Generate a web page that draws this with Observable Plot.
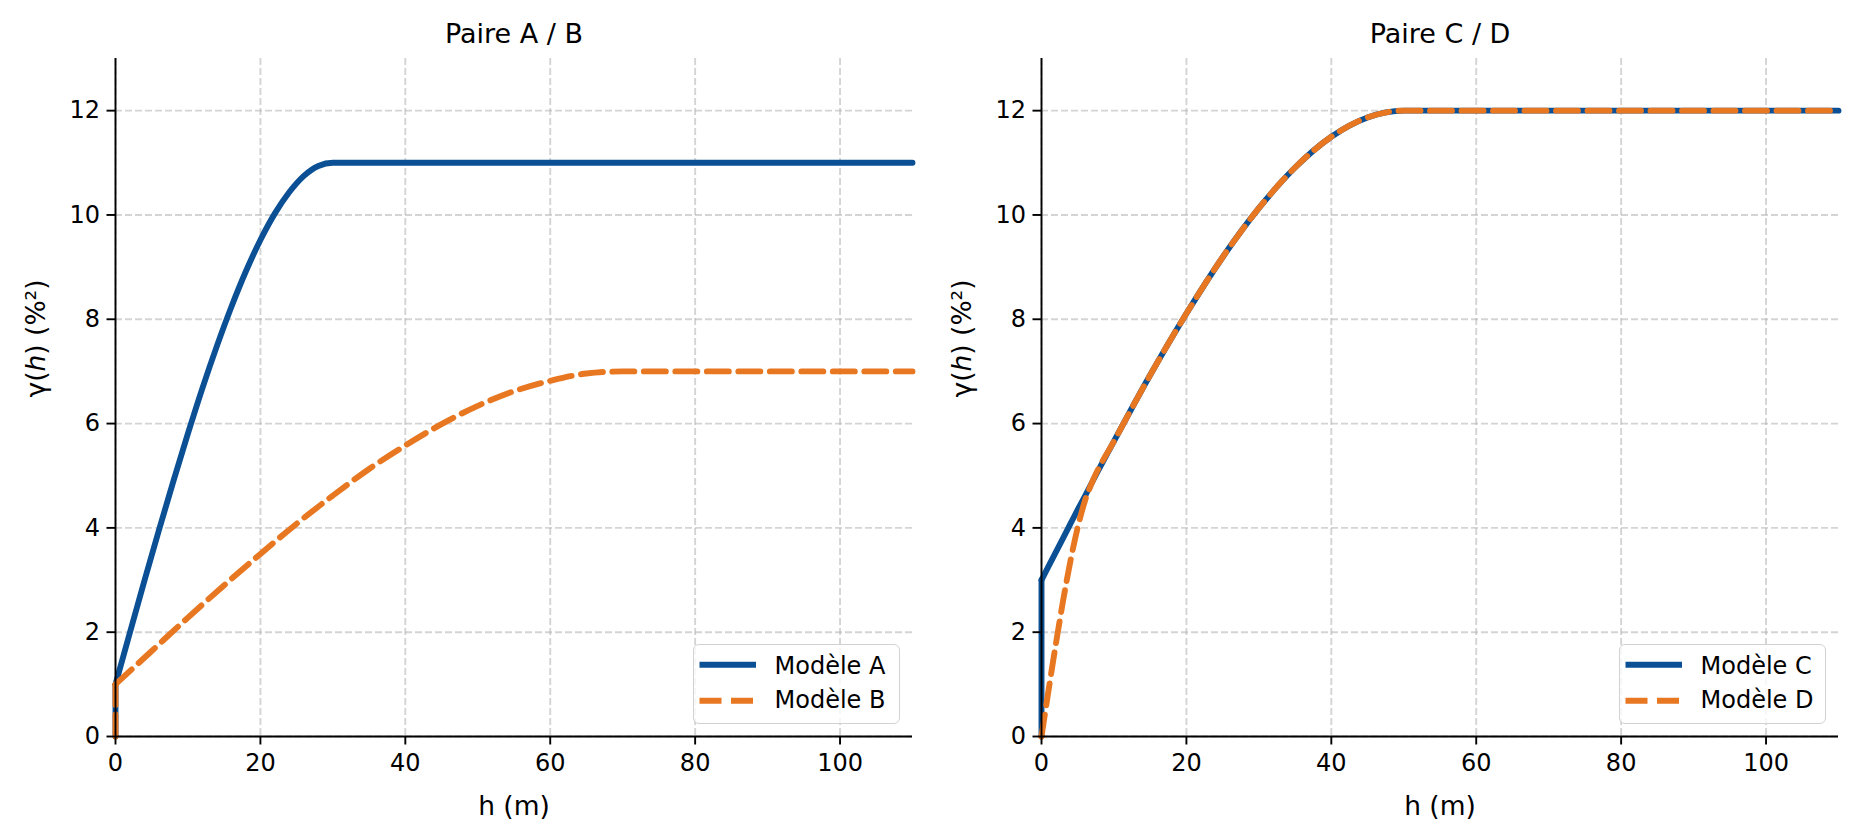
<!DOCTYPE html>
<html>
<head>
<meta charset="utf-8">
<script src="https://cdn.jsdelivr.net/npm/d3@7"></script>
<script src="https://cdn.jsdelivr.net/npm/@observablehq/plot@0.6"></script>
<style>
html, body { margin: 0; padding: 0; background: #fff; }
#wrap { position: relative; width: 1857px; height: 839px; display: flex; font-family: "DejaVu Sans", sans-serif; }
.panel { position: relative; }
.legend { position: absolute; box-sizing: border-box; border: 1.6px solid #d2d2d2; border-radius: 6px; background: rgba(255,255,255,0.8); }
.legend svg { position: absolute; left: 0; top: 0; overflow: visible; }
</style>
</head>
<body>
<div id="wrap"></div>
<script>
// ---- data ----
const xTicks = [0, 20, 40, 60, 80, 100];
const yTicks = [0, 2, 4, 6, 8, 10, 12];

const titles = ["Paire A / B", "Paire C / D"];
const seriesNames = [["Modèle A", "Modèle B"], ["Modèle C", "Modèle D"]];

// first two points: the value at h = 0 and the nugget jump
const hA = [0, 0, 2, 4, 6, 8, 10, 12, 14, 16, 18, 20, 22, 24, 26, 28, 30, 40, 60, 80, 100, 110];
const gA = [0, 1.0, 2.0, 2.99, 3.96, 4.9, 5.81, 6.68, 7.49, 8.24, 8.92, 9.52, 10.03, 10.44, 10.75, 10.94, 11, 11, 11, 11, 11, 11];

const hB = [0, 0, 5, 10, 15, 20, 25, 30, 35, 40, 45, 50, 55, 60, 65, 70, 80, 100, 110];
const gB = [0, 1.0, 1.64, 2.28, 2.90, 3.50, 4.08, 4.62, 5.13, 5.58, 5.99, 6.34, 6.62, 6.82, 6.96, 7.0, 7.0, 7.0, 7.0];

const hC = [0, 0, 1, 2, 3, 4, 5, 6, 7, 10, 15, 20, 25, 30, 35, 40, 45, 50, 60, 80, 100, 110];
const gC = [0, 3.0, 3.27, 3.54, 3.81, 4.08, 4.35, 4.61, 4.88, 5.66, 6.93, 8.11, 9.19, 10.13, 10.91, 11.50, 11.87, 12, 12, 12, 12, 12];

const hD = [0, 0, 1, 2, 3, 4, 5, 6, 7, 10, 15, 20, 25, 30, 35, 40, 45, 50, 60, 80, 100, 110];
const gD = [0, 0, 0.91, 1.79, 2.62, 3.37, 4.01, 4.52, 4.88, 5.66, 6.93, 8.11, 9.19, 10.13, 10.91, 11.50, 11.87, 12, 12, 12, 12, 12];

const BLUE = "#0b4f94";
const ORANGE = "#e87722";

const toRows = (h, g) => h.map((d, i) => ({h: d, g: g[i]}));

function seriesMarks(rows, opts) {
  // vertical nugget segment drawn straight, rest drawn as a smooth curve
  return [
    Plot.line(rows.slice(0, 2), {x: "h", y: "g", ...opts, curve: "linear"}),
    Plot.line(rows.slice(1), {x: "h", y: "g", ...opts, curve: "monotone-x"})
  ];
}

function panel(title, names, s1, s2, width, ml, mr, legendLeft) {
  const gridStyle = {stroke: "#b0b0b0", strokeOpacity: 0.55, strokeWidth: 1.9, strokeDasharray: "7,3"};
  const svg = Plot.plot({
    width, height: 839,
    marginLeft: ml, marginRight: mr, marginTop: 58, marginBottom: 103,
    style: {fontFamily: "DejaVu Sans, sans-serif", fontSize: "24px", color: "black", background: "white", overflow: "visible"},
    x: {domain: [0, 110]},
    y: {domain: [0, 13]},
    marks: [
      Plot.gridX(xTicks, gridStyle),
      Plot.gridY(yTicks, gridStyle),
      ...seriesMarks(s1, {stroke: BLUE, strokeWidth: 5.9}),
      ...seriesMarks(s2, {stroke: ORANGE, strokeWidth: 5.9, strokeDasharray: "22,9.5"}),
      Plot.axisX(xTicks, {tickSize: 8.5, tickPadding: 9, strokeWidth: 1.9, fontSize: 24, label: null, tickFormat: d => String(d)}),
      Plot.axisY(yTicks, {tickSize: 8.5, tickPadding: 7, strokeWidth: 1.9, fontSize: 24, label: null, tickFormat: d => String(d)}),
      Plot.ruleX([0], {stroke: "black", strokeWidth: 1.9}),
      Plot.ruleY([0], {stroke: "black", strokeWidth: 1.9}),
      Plot.text([title], {frameAnchor: "top", dy: -16, lineAnchor: "bottom", fontSize: 27}),
      Plot.text(["h (m)"], {frameAnchor: "bottom", dy: 78, lineAnchor: "bottom", fontSize: 26.5}),
      Plot.text(["γ(h) (%²)"], {frameAnchor: "left", dx: -79, rotate: -90, fontSize: 26.5})
    ]
  });
  // italic h in the y label
  d3.select(svg).selectAll("text").each(function() {
    if (this.textContent === "γ(h) (%²)") {
      this.innerHTML = 'γ(<tspan font-style="italic">h</tspan>) (%²)';
    }
  });
  const div = document.createElement("div");
  div.className = "panel";
  div.style.width = width + "px";
  div.appendChild(svg);

  // legend
  const lg = document.createElement("div");
  lg.className = "legend";
  lg.style.left = legendLeft + "px";
  lg.style.top = "644px";
  lg.style.width = "207px";
  lg.style.height = "80px";
  const ls = d3.create("svg").attr("width", 207).attr("height", 80);
  const rows = [
    {name: names[0], color: BLUE, dash: null, y: 19.8, base: 29.3},
    {name: names[1], color: ORANGE, dash: "22,9.5", y: 55.7, base: 63.3}
  ];
  for (const r of rows) {
    ls.append("line").attr("x1", 5.5).attr("x2", 62).attr("y1", r.y).attr("y2", r.y)
      .attr("stroke", r.color).attr("stroke-width", 5.9).attr("stroke-dasharray", r.dash);
    ls.append("text").attr("x", 80.5).attr("y", r.base).attr("font-size", 24)
      .attr("font-family", "DejaVu Sans, sans-serif").attr("fill", "black").text(r.name);
  }
  lg.appendChild(ls.node());
  div.appendChild(lg);
  return div;
}

const wrap = document.getElementById("wrap");
wrap.appendChild(panel(titles[0], seriesNames[0], toRows(hA, gA), toRows(hB, gB), 928, 115, 16, 693));
wrap.appendChild(panel(titles[1], seriesNames[1], toRows(hC, gC), toRows(hD, gD), 929, 113, 19, 691));
</script>
</body>
</html>
